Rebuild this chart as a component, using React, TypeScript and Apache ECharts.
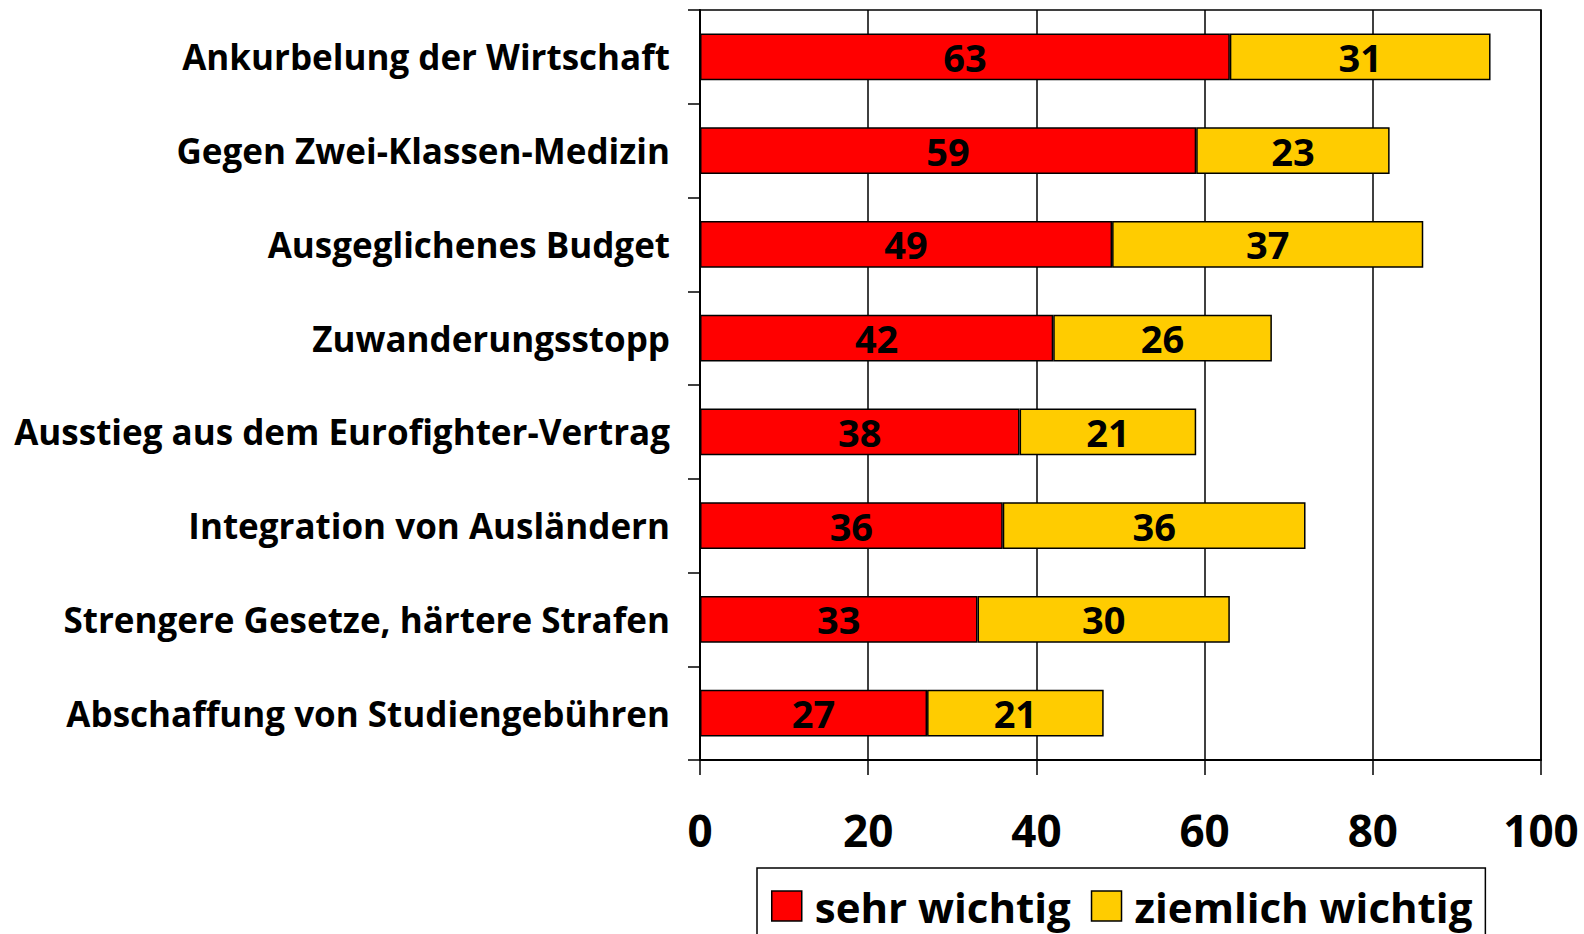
import React, { useEffect, useRef } from "react";
import * as echarts from "echarts";

const categories = [
  "Ankurbelung der Wirtschaft",
  "Gegen Zwei-Klassen-Medizin",
  "Ausgeglichenes Budget",
  "Zuwanderungsstopp",
  "Ausstieg aus dem Eurofighter-Vertrag",
  "Integration von Ausländern",
  "Strengere Gesetze, härtere Strafen",
  "Abschaffung von Studiengebühren",
];
const sehrWichtig = [63, 59, 49, 42, 38, 36, 33, 27];
const ziemlichWichtig = [31, 23, 37, 26, 21, 36, 30, 21];
const seriesNames = ["sehr wichtig", "ziemlich wichtig"];
const xTicks = { min: 0, max: 100, interval: 20 };

const FONT = "Open Sans";

export default function App() {
  const ref = useRef<HTMLDivElement>(null);
  useEffect(() => {
    if (!ref.current) return;
    const chart = echarts.init(ref.current, undefined, { renderer: "svg" });
    const labelStyle = {
      show: true,
      position: "inside" as const,
      color: "#000",
      fontFamily: FONT,
      fontWeight: "bold" as const,
      fontSize: 38,
    };
    chart.setOption({
      animation: false,
      backgroundColor: "#fff",
      grid: {
        left: 700,
        right: 43,
        top: 10,
        bottom: 174,
        show: true,
        borderColor: "#000",
        borderWidth: 1.5,
        backgroundColor: "transparent",
      },
      legend: {
        left: 757,
        top: 868,
        orient: "horizontal",
        data: seriesNames,
        icon: "rect",
        itemWidth: 30,
        itemHeight: 30,
        itemGap: 20,
        padding: [17, 13, 30, 14],
        borderColor: "#000",
        borderWidth: 1.5,
        itemStyle: { borderColor: "#000", borderWidth: 1.5 },
        textStyle: {
          fontFamily: FONT,
          fontWeight: "bold",
          fontSize: 42,
          lineHeight: 40,
          color: "#000",
          padding: [0, 0, 0, 8],
        },
      },
      xAxis: {
        type: "value",
        min: xTicks.min,
        max: xTicks.max,
        interval: xTicks.interval,
        axisLine: { show: true, lineStyle: { color: "#000", width: 2 } },
        axisTick: { show: true, length: 15, lineStyle: { color: "#000", width: 1.5 } },
        splitLine: { show: true, lineStyle: { color: "#000", width: 1.5 } },
        axisLabel: {
          color: "#000",
          fontFamily: FONT,
          fontWeight: "bold",
          fontSize: 44,
          margin: 48,
        },
      },
      yAxis: {
        type: "category",
        inverse: true,
        data: categories,
        axisLine: { show: true, lineStyle: { color: "#000", width: 2 } },
        axisTick: { show: true, length: 12, inside: false, lineStyle: { color: "#000", width: 1.5 } },
        axisLabel: {
          color: "#000",
          fontFamily: FONT,
          fontWeight: "bold",
          fontSize: 35,
          margin: 30,
        },
      },
      series: [
        {
          name: seriesNames[0],
          type: "bar",
          stack: "total",
          data: sehrWichtig,
          barWidth: "50%",
          itemStyle: { color: "#FF0000", borderColor: "#000", borderWidth: 1.5 },
          label: labelStyle,
        },
        {
          name: seriesNames[1],
          type: "bar",
          stack: "total",
          data: ziemlichWichtig,
          barWidth: "50%",
          itemStyle: { color: "#FFCC00", borderColor: "#000", borderWidth: 1.5 },
          label: labelStyle,
        },
      ],
    });
    return () => chart.dispose();
  }, []);
  return (
    <div
      ref={ref}
      style={{ position: "fixed", left: 0, top: 0, width: 1584, height: 934, background: "#fff" }}
    />
  );
}
